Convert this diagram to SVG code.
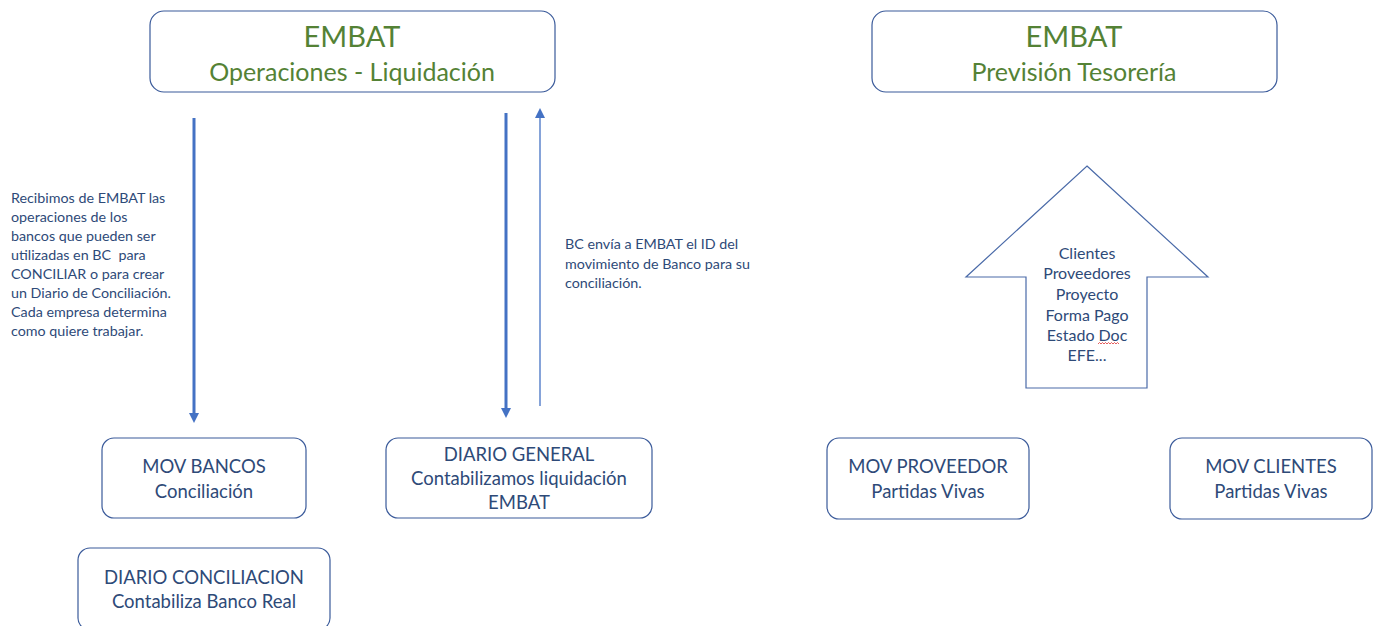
<svg xmlns="http://www.w3.org/2000/svg" width="1379" height="626" viewBox="0 0 1379 626">
<defs>
<style>
.box{fill:#fff;stroke:#3a5a9a;stroke-width:1.2}
.t{font-family:Lato,"Open Sans","Liberation Sans",sans-serif;fill:#2e4a78;text-anchor:middle}
.g{font-family:Lato,"Open Sans","Liberation Sans",sans-serif;fill:#548235;text-anchor:middle}
.n{font-family:Lato,"Open Sans","Liberation Sans",sans-serif;fill:#2e4a78;font-size:14.3px}
.b{font-size:18.5px}
.a{font-size:16px}
</style>
<marker id="ah" viewBox="0 0 10 10" refX="5" refY="5" markerWidth="10" markerHeight="10" markerUnits="userSpaceOnUse" orient="auto">
<path d="M0,0 L10,5 L0,10 z" fill="#4472c4"/>
</marker>
</defs>
<rect width="1379" height="626" fill="#fff"/>
<g id="embat-operaciones">
<rect class="box" x="150" y="11" width="405" height="81" rx="14"/>
<text class="g" x="352" y="47" font-size="29">EMBAT</text>
<text class="g" x="352" y="81" font-size="25">Operaciones - Liquidación</text>
</g>
<g id="embat-prevision">
<rect class="box" x="872" y="11" width="405" height="81" rx="14"/>
<text class="g" x="1074" y="47" font-size="29">EMBAT</text>
<text class="g" x="1074" y="81" font-size="25">Previsión Tesorería</text>
</g>
<g id="connectors">
<line x1="194" y1="118" x2="194" y2="418" stroke="#4472c4" stroke-width="3" marker-end="url(#ah)"/>
<line x1="506" y1="113" x2="506" y2="413" stroke="#4472c4" stroke-width="3" marker-end="url(#ah)"/>
<line x1="540" y1="406" x2="540" y2="113" stroke="#4472c4" stroke-width="1.3" marker-end="url(#ah)"/>
</g>
<g id="note-left">
<text class="n" x="11" y="203">Recibimos de EMBAT las</text>
<text class="n" x="11" y="222">operaciones de los</text>
<text class="n" x="11" y="241">bancos que pueden ser</text>
<text class="n" x="11" y="260" xml:space="preserve">utilizadas en BC  para</text>
<text class="n" x="11" y="279">CONCILIAR o para crear</text>
<text class="n" x="11" y="298">un Diario de Conciliación.</text>
<text class="n" x="11" y="317">Cada empresa determina</text>
<text class="n" x="11" y="336">como quiere trabajar.</text>
</g>
<g id="note-middle">
<text class="n" x="565" y="249">BC envía a EMBAT el ID del</text>
<text class="n" x="565" y="269">movimiento de Banco para su</text>
<text class="n" x="565" y="288">conciliación.</text>
</g>
<g id="up-arrow">
<path d="M1087,166 L1208,277 L1147,277 L1147,388 L1026,388 L1026,277 L966,277 Z" fill="#fff" stroke="#4a6aa8" stroke-width="1.2"/>
<text class="t a" x="1087" y="259">Clientes</text>
<text class="t a" x="1087" y="279">Proveedores</text>
<text class="t a" x="1087" y="300">Proyecto</text>
<text class="t a" x="1087" y="321">Forma Pago</text>
<text class="t a" x="1087" y="341">Estado Doc</text>
<path d="M1098,344 l1.5,-1.5 l1.5,1.5 l1.5,-1.5 l1.5,1.5 l1.5,-1.5 l1.5,1.5 l1.5,-1.5 l1.5,1.5 l1.5,-1.5 l1.5,1.5 l1.5,-1.5 l1.5,1.5 l1.5,-1.5 l1.5,1.5" fill="none" stroke="#d33" stroke-width="0.8"/>
<text class="t a" x="1087" y="361">EFE...</text>
</g>
<g id="mov-bancos">
<rect class="box" x="102" y="438" width="204" height="80" rx="12"/>
<text class="t b" x="204" y="473">MOV BANCOS</text>
<text class="t b" x="204" y="498">Conciliación</text>
</g>
<g id="diario-general">
<rect class="box" x="386" y="438" width="266" height="80" rx="12"/>
<text class="t b" x="519" y="461">DIARIO GENERAL</text>
<text class="t b" x="519" y="485">Contabilizamos liquidación</text>
<text class="t b" x="519" y="509">EMBAT</text>
</g>
<g id="diario-conciliacion">
<rect class="box" x="78" y="548" width="252" height="82" rx="12"/>
<text class="t b" x="204" y="584">DIARIO CONCILIACION</text>
<text class="t b" x="204" y="608">Contabiliza Banco Real</text>
</g>
<g id="mov-proveedor">
<rect class="box" x="827" y="438" width="202" height="81" rx="12"/>
<text class="t b" x="928" y="473">MOV PROVEEDOR</text>
<text class="t b" x="928" y="498">Partidas Vivas</text>
</g>
<g id="mov-clientes">
<rect class="box" x="1170" y="438" width="202" height="81" rx="12"/>
<text class="t b" x="1271" y="473">MOV CLIENTES</text>
<text class="t b" x="1271" y="498">Partidas Vivas</text>
</g>
</svg>
